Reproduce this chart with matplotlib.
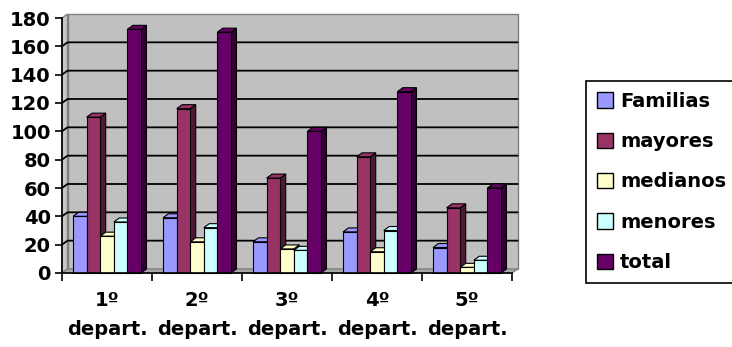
import numpy as np
import matplotlib.pyplot as plt
from matplotlib.patches import Polygon, Rectangle
from matplotlib.colors import to_rgb

# Datos por departamento
categorias = ['1º\ndepart.', '2º\ndepart.', '3º\ndepart.', '4º\ndepart.', '5º\ndepart.']
series = ['Familias', 'mayores', 'medianos', 'menores', 'total']
familias = [40, 39, 22, 29, 18]
mayores = [110, 116, 67, 82, 46]
medianos = [26, 22, 17, 15, 4]
menores = [36, 32, 16, 30, 9]
total = [172, 170, 100, 128, 60]
colores = ['#9999FF', '#993366', '#FFFFCC', '#CCFFFF', '#660066']

valores = [familias, mayores, medianos, menores, total]

plt.rcParams.update({'font.family': 'DejaVu Sans', 'font.weight': 'bold',
                     'font.size': 14})

fig = plt.figure(figsize=(7.32, 3.47), dpi=100)
ax = fig.add_axes([62/732, 74/347, 450/732, 255/347])
ax.set_xlim(0, 5)
ax.set_ylim(0, 180)

# profundidad del efecto 3D (en unidades de datos)
dx = 5.5/90
dy = 4*180/255

# paredes y suelo
ax.add_patch(Polygon([(dx, dy), (5+dx, dy), (5+dx, 180+dy), (dx, 180+dy)],
                     fc='#C0C0C0', ec='#808080', lw=1, clip_on=False, zorder=0.5))
ax.add_patch(Polygon([(0, 0), (dx, dy), (dx, 180+dy), (0, 180)],
                     fc='#C8C8C8', ec='#808080', lw=1, clip_on=False, zorder=0.6))
ax.add_patch(Polygon([(0, 0), (5, 0), (5+dx, dy), (dx, dy)],
                     fc='#A8A8A8', ec='#808080', lw=1, clip_on=False, zorder=0.6))

# líneas de división
for v in range(20, 180, 20):
    ax.plot([0, dx, 5+dx], [v, v+dy, v+dy], color='black', lw=1.3,
            clip_on=False, zorder=0.8)

# barras con cara frontal, lateral y superior
w = 0.151
x0 = 0.5 - 2.5*w
for g in range(len(categorias)):
    for i, (vals, c) in enumerate(zip(valores, colores)):
        l = g + x0 + i*w
        h = vals[g]
        r = l + w
        oscuro = tuple(np.array(to_rgb(c))*0.5)
        ax.add_patch(Polygon([(r, 0), (r+dx, dy), (r+dx, h+dy), (r, h)],
                             fc=oscuro, ec='black', lw=0.8, clip_on=False, zorder=2))
        ax.add_patch(Polygon([(l, h), (r, h), (r+dx, h+dy), (l+dx, h+dy)],
                             fc=c, ec='black', lw=0.8, clip_on=False, zorder=2))
        ax.add_patch(Rectangle((l, 0), w, h, fc=c, ec='black', lw=0.8,
                               clip_on=False, zorder=2))

# ejes
for s in ['top', 'right']:
    ax.spines[s].set_visible(False)
for s in ['left', 'bottom']:
    ax.spines[s].set_color('black')
    ax.spines[s].set_linewidth(1.2)
    ax.spines[s].set_zorder(3)

ax.set_yticks(range(0, 181, 20))
ax.tick_params(axis='y', direction='out', length=5, width=1.2, pad=3)
ax.set_xticks(np.arange(5) + 0.5)
ax.set_xticklabels(categorias, linespacing=1.65)
ax.set_xticks(range(6), minor=True)
ax.tick_params(axis='x', which='major', length=0, pad=13)
ax.tick_params(axis='x', which='minor', direction='out', length=6, width=1.2)

# leyenda
handles = [Rectangle((0, 0), 1, 1, fc=c, ec='black', lw=1) for c in colores]
leg = fig.legend(handles, series, loc='upper left',
                 bbox_to_anchor=(586/732, 1 - 81/347), bbox_transform=fig.transFigure,
                 frameon=True, fancybox=False, edgecolor='black', framealpha=1,
                 handlelength=0.85, handleheight=0.85, handletextpad=0.35,
                 labelspacing=1.1, borderpad=0.55, borderaxespad=0)
leg.get_frame().set_linewidth(1.2)

fig.savefig('out.png', dpi=100)
